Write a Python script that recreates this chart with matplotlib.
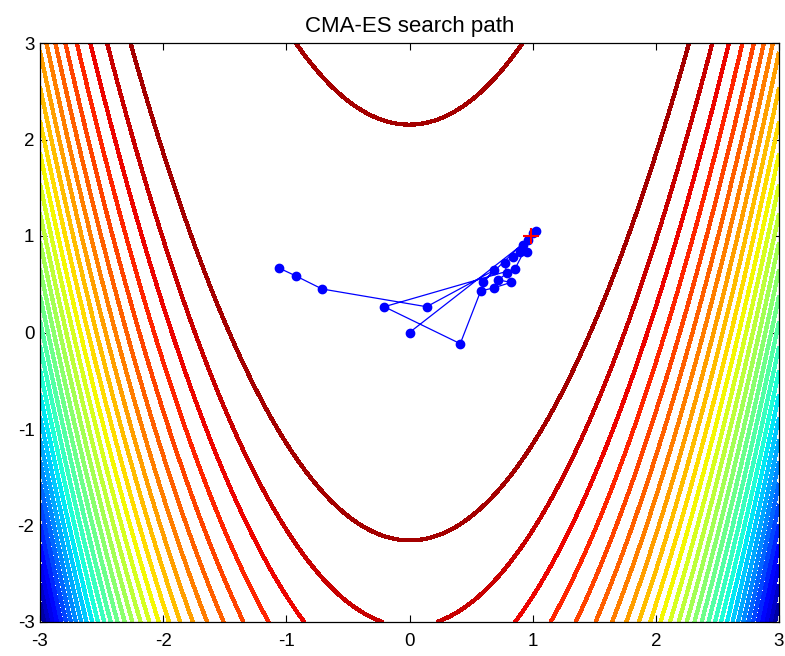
import numpy as np
import matplotlib
matplotlib.use("Agg")
import matplotlib.pyplot as plt

plt.rcParams['font.family'] = ['Liberation Sans', 'DejaVu Sans']
plt.rcParams['axes.unicode_minus'] = False

# search path of the strategy
path_x = [0.000, 0.964, 0.924, 0.951, 0.897, 0.843, 0.775, 0.789, 0.720,
          0.826, 0.688, 0.578, 0.412, -0.205, 0.856, 1.005, 1.027, 0.594,
          0.688, 0.139, -0.710, -0.921, -1.059]
path_y = [0.000, 0.959, 0.907, 0.831, 0.837, 0.786, 0.717, 0.613, 0.544,
          0.520, 0.464, 0.430, -0.116, 0.267, 0.658, 1.028, 1.055, 0.520,
          0.645, 0.267, 0.451, 0.585, 0.668]
optimum = [0.99, 1.0]

ticks = [-3, -2, -1, 0, 1, 2, 3]
n_levels = 30

# Rosenbrock landscape
gx = np.linspace(-3, 3, 241)
gy = np.linspace(-3, 3, 241)
X, Y = np.meshgrid(gx, gy)
Z = (1 - X) ** 2 + 100 * (Y - X ** 2) ** 2
levels = np.linspace(Z.min(), Z.max(), n_levels + 2)[1:-1]

fig = plt.figure(figsize=(7.85, 6.56), dpi=100)
ax = fig.add_axes([40 / 785, 34 / 656, 739 / 785, 579 / 656])

cs = ax.contour(X, Y, Z, levels=levels, cmap='jet_r',
                vmin=Z.min(), vmax=Z.max(), linewidths=2.3, antialiased=False)

ax.plot(path_x, path_y, '-', color='blue', lw=0.9)
ax.plot(path_x, path_y, 'o', color='blue', ms=6, mec='blue')
ax.plot(optimum[0], optimum[1], '+', color='red', ms=11, mew=1.5)

ax.set_xlim(-3, 3)
ax.set_ylim(-3, 3)
ax.set_xticks(ticks)
ax.set_yticks(ticks)
ax.tick_params(direction='in', top=True, right=True, length=5, width=0.8,
               labelsize=13.5)
ax.tick_params(axis='x', pad=8)
ax.tick_params(axis='y', pad=4)
for s in ax.spines.values():
    s.set_linewidth(0.9)
ax.set_title('CMA-ES search path', fontsize=16, pad=8)

fig.savefig('out.png', dpi=100)
